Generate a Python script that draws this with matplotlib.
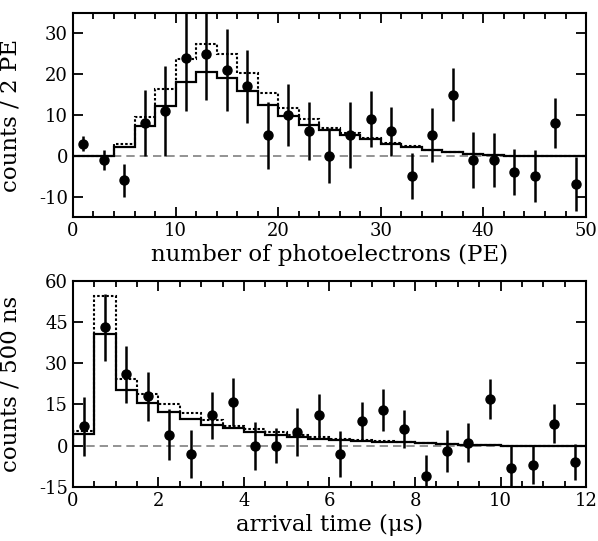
import matplotlib
matplotlib.use("Agg")
import matplotlib.pyplot as plt
import numpy as np

plt.rcParams["font.family"] = ["DejaVu Serif"]
plt.rcParams["mathtext.fontset"] = "dejavuserif"
plt.rcParams["axes.unicode_minus"] = False

# top panel: photoelectron spectrum (bins of 2 PE)
pe_edges = np.arange(0, 52, 2)
pe_x = np.arange(1, 50, 2)
pe_counts = [3, -1, -6, 8, 11, 24, 25, 21, 17, 5, 10, 6, 0,
             5, 9, 6, -5, 5, 15, -1, -1, -4, -5, 8, -7]
pe_err = [1.8, 2.4, 4.1, 8, 11, 13, 11.4, 10, 9, 8.2, 7.7, 7.1, 6.7,
          8.1, 6.8, 6.0, 5.6, 6.6, 6.5, 6.9, 6.6, 5.7, 6.3, 6.1, 6.6]
pe_model = [0, 0, 2.2, 7.2, 12.3, 18, 20.6, 19, 15.9, 12.4, 9.8, 7.6, 6.3,
            5.0, 4.0, 3.0, 2.2, 1.4, 0.8, 0.5, 0.3, 0, 0, 0, 0]
pe_model_alt = [0, 0, 2.8, 9.4, 16.3, 23.8, 27.5, 25, 20.3, 15.3, 11.8, 9, 6.9,
                5.5, 4.3, 3.2, 2.4, 1.5, 0.9, 0.5, 0.3, 0, 0, 0, 0]

# bottom panel: arrival time (bins of 500 ns)
t_edges = np.arange(0, 12.5, 0.5)
t_x = np.arange(0.25, 12, 0.5)
t_counts = [7, 43, 26, 18, 4, -3, 11, 16, 0, 0, 5, 11,
            -3, 9, 13, 6, -11, -2, 1, 17, -8, -7, 8, -6]
t_err = [10.8, 12.3, 10.4, 8.9, 9.3, 8.8, 8.4, 8.8, 8.7, 6.3, 8.8, 7.8,
         8.5, 6.9, 7.8, 6.9, 7.7, 7.6, 7.1, 7.3, 8, 7, 7.2, 6.6]
t_model = [4.3, 40.5, 20.1, 15.5, 12.2, 9.8, 7.7, 6.3, 4.9, 3.9, 3.3, 2.4,
           2.1, 1.8, 1.5, 1.2, 0.9, 0.6, 0.4, 0.2, 0, 0, 0, 0]
t_model_alt = [5.5, 54.6, 24.4, 18.9, 15, 11.8, 9.2, 7.3, 5.9, 4.9, 4.0, 3.0,
               2.5, 2.1, 1.7, 1.3, 1.0, 0.7, 0.4, 0.2, 0, 0, 0, 0]

fig = plt.figure(figsize=(5.98, 5.41), dpi=100)
ax1 = fig.add_axes([0.122, 0.599, 0.858, 0.377])
ax2 = fig.add_axes([0.122, 0.100, 0.858, 0.381])


def draw(ax, edges, x, y, err, model, model_alt):
    ax.axhline(0, color="gray", ls=(0, (5, 3)), lw=1.2, zorder=1)
    ax.stairs(model_alt, edges, color="k", ls=(0, (1.2, 1)), lw=1.5, zorder=2)
    ax.stairs(model, edges, color="k", lw=1.6, zorder=3)
    ax.errorbar(x, y, yerr=err, fmt="o", color="k", ms=6.5,
                elinewidth=1.8, capsize=0, zorder=4)
    ax.tick_params(which="both", direction="in", top=True, right=True,
                   width=1.3, labelsize=13)
    ax.tick_params(which="major", length=7)
    ax.tick_params(which="minor", length=4.5)
    for s in ax.spines.values():
        s.set_linewidth(1.5)
    ax.yaxis.set_label_coords(-0.1, 0.5)


draw(ax1, pe_edges, pe_x, pe_counts, pe_err, pe_model, pe_model_alt)
ax1.set_xlim(0, 50)
ax1.set_ylim(-15, 35)
ax1.set_xticks(np.arange(0, 51, 10))
ax1.set_xticks(np.arange(0, 51, 2), minor=True)
ax1.set_yticks(np.arange(-10, 31, 10))
ax1.set_xlabel("number of photoelectrons (PE)", fontsize=16.5, labelpad=3)
ax1.set_ylabel("counts / 2 PE", fontsize=16.5)

draw(ax2, t_edges, t_x, t_counts, t_err, t_model, t_model_alt)
ax2.set_xlim(0, 12)
ax2.set_ylim(-15, 60)
ax2.set_xticks(np.arange(0, 13, 2))
ax2.set_xticks(np.arange(0, 12.1, 0.5), minor=True)
ax2.set_yticks(np.arange(-15, 61, 15))
ax2.set_xlabel("arrival time (μs)", fontsize=16.5, labelpad=3)
ax2.set_ylabel("counts / 500 ns", fontsize=16.5)

fig.savefig("out.png", dpi=100)
